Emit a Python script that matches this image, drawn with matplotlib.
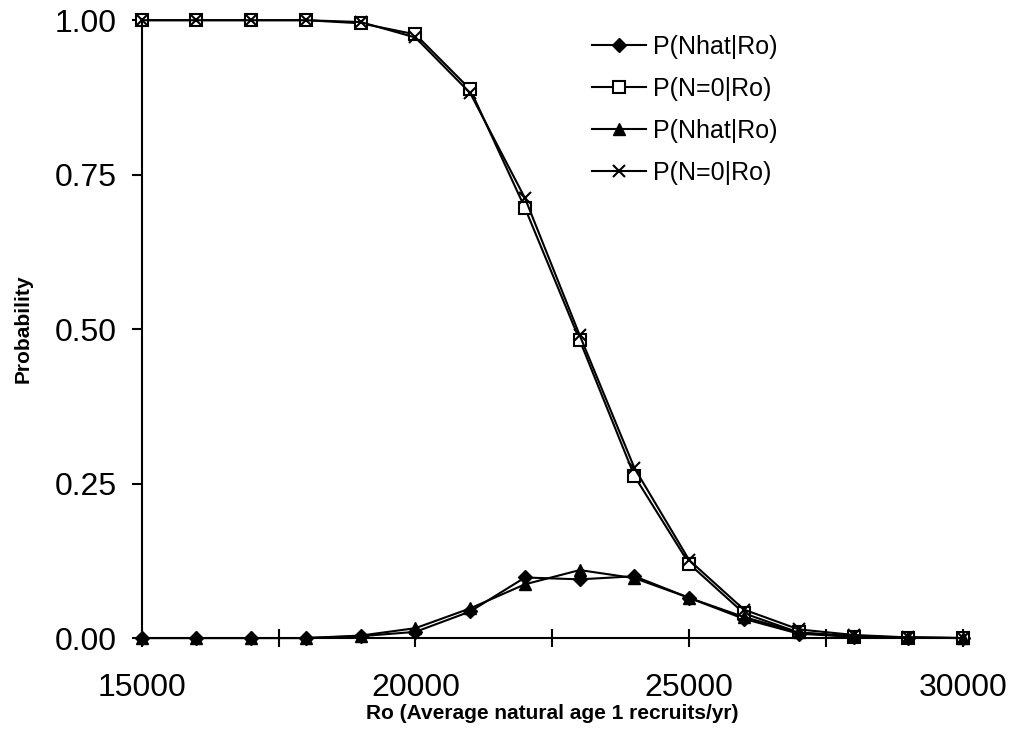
import numpy as np
import matplotlib.pyplot as plt
from matplotlib.ticker import MultipleLocator, FixedLocator, NullFormatter

plt.rcParams['font.family'] = ['Liberation Sans', 'DejaVu Sans']

# Ro values (average natural age 1 recruits per year)
ro = [15000, 16000, 17000, 18000, 19000, 20000, 21000, 22000,
      23000, 24000, 25000, 26000, 27000, 28000, 29000, 30000]

# first run
p_nhat_a = [0.0, 0.0, 0.0, 0.0, 0.003, 0.010, 0.043, 0.098,
            0.095, 0.100, 0.065, 0.031, 0.007, 0.002, 0.0005, 0.0]
p_zero_a = [1.0, 1.0, 1.0, 1.0, 0.995, 0.977, 0.888, 0.696,
            0.482, 0.262, 0.120, 0.040, 0.009, 0.002, 0.0005, 0.0]
# second run
p_nhat_b = [0.0, 0.0, 0.0, 0.0, 0.004, 0.016, 0.048, 0.087,
            0.110, 0.097, 0.065, 0.034, 0.009, 0.003, 0.001, 0.0]
p_zero_b = [1.0, 1.0, 1.0, 1.0, 0.997, 0.972, 0.882, 0.712,
            0.490, 0.275, 0.126, 0.046, 0.014, 0.005, 0.001, 0.0]

fig = plt.figure(figsize=(10.12, 7.48), dpi=100)
ax = fig.add_axes([0.140, 0.147, 0.8116, 0.826])

lw = 1.5
ax.plot(ro, p_nhat_a, color='black', lw=lw, marker='D', ms=7,
        mfc='black', mec='black', label='P(Nhat|Ro)', clip_on=False)
ax.plot(ro, p_zero_a, color='black', lw=lw, marker='s', ms=8,
        mfc='white', mec='black', mew=1.5, label='P(N=0|Ro)', clip_on=False)
ax.plot(ro, p_nhat_b, color='black', lw=lw, marker='^', ms=9,
        mfc='black', mec='black', label='P(Nhat|Ro)', clip_on=False)
ax.plot(ro, p_zero_b, color='black', lw=lw, marker='x', ms=9,
        mec='black', mew=1.5, label='P(N=0|Ro)', clip_on=False)

ax.set_xlim(15000, 30000)
ax.set_ylim(0, 1)

for side in ['top', 'right']:
    ax.spines[side].set_visible(False)
for side in ['left', 'bottom']:
    ax.spines[side].set_linewidth(1.5)

ax.xaxis.set_major_locator(MultipleLocator(2500))
ax.xaxis.set_major_formatter(NullFormatter())
ax.tick_params(axis='x', direction='inout', length=13.5, width=1.5, pad=0)
# labels every 5000 on a separate axis so ticks stay every 2500
lab = ax.secondary_xaxis('bottom')
lab.xaxis.set_major_locator(FixedLocator([15000, 20000, 25000, 30000]))
lab.spines['bottom'].set_visible(False)
lab.tick_params(axis='x', length=0, pad=25, labelsize=23)

ax.yaxis.set_major_locator(MultipleLocator(0.25))
ax.yaxis.set_major_formatter(plt.FormatStrFormatter('%.2f'))
ax.tick_params(axis='y', direction='out', length=7, width=1.5, pad=11,
               labelsize=23)

lab.set_xlabel('Ro (Average natural age 1 recruits/yr)', fontsize=15,
               fontweight='bold', labelpad=1)
ax.set_ylabel('Probability', fontsize=15, fontweight='bold', labelpad=16)

ax.legend(loc='upper left', bbox_to_anchor=(0.53, 1.0), frameon=False,
          fontsize=18, numpoints=1, handlelength=2.15, handletextpad=0.28,
          labelspacing=0.72, borderaxespad=0.2)

fig.savefig('out.png', dpi=100)
